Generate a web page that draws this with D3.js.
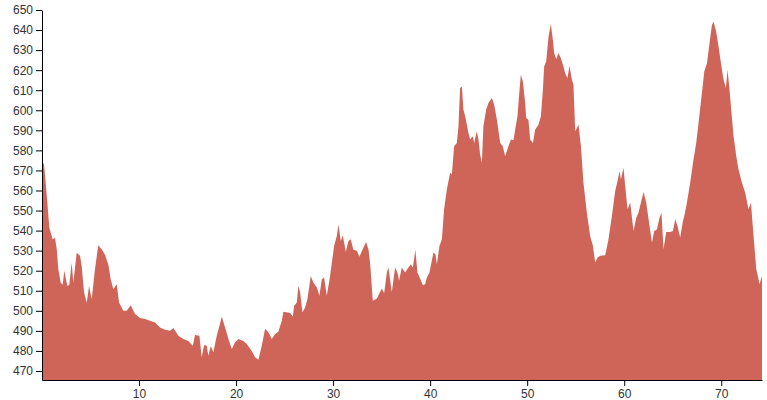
<!DOCTYPE html>
<html>
<head>
<meta charset="utf-8">
<script src="https://cdn.jsdelivr.net/npm/d3@7"></script>
<style>
  html, body { margin: 0; padding: 0; background: #fff; }
  svg { display: block; }
  .axis text { font-family: "Liberation Sans", Arial, sans-serif; font-size: 12px; fill: #333; }
  .axis path, .axis line { stroke: #000; }
</style>
</head>
<body>
<svg id="chart" width="767" height="400"></svg>
<script>
// distance along route (km)
const distance = [
  0.00, 0.21, 0.41, 0.55, 0.75, 1.10, 1.34, 1.52, 1.68, 1.93, 2.13, 2.30, 2.61, 2.81, 3.06, 3.23,
  3.58, 3.92, 4.09, 4.33, 4.61, 4.85, 5.12, 5.46, 5.80, 6.15, 6.49, 6.84, 7.08, 7.35, 7.70, 7.94,
  8.38, 8.73, 9.14, 9.59, 10.10, 10.62, 11.13, 11.65, 12.16, 12.68, 13.20, 13.54, 14.05, 14.57,
  15.08, 15.54, 15.77, 16.22, 16.46, 16.70, 16.98, 17.14, 17.39, 17.66, 18.01, 18.53, 18.87, 19.21,
  19.56, 19.90, 20.24, 20.75, 21.10, 21.62, 21.96, 22.30, 22.65, 22.99, 23.33, 23.68, 24.02, 24.36,
  24.71, 24.88, 25.57, 25.85, 25.98, 26.26, 26.42, 26.60, 26.84, 27.11, 27.35, 27.70, 27.97, 28.32,
  28.59, 28.84, 29.07, 29.35, 29.69, 30.10, 30.38, 30.55, 30.79, 31.00, 31.31, 31.58, 31.82, 32.09,
  32.44, 32.71, 33.12, 33.40, 33.64, 33.81, 34.09, 34.51, 35.02, 35.26, 35.54, 35.70, 36.05, 36.39,
  36.63, 36.80, 37.08, 37.42, 37.76, 38.01, 38.22, 38.48, 38.69, 38.97, 39.25, 39.48, 39.66, 39.93,
  40.34, 40.55, 40.69, 40.96, 41.21, 41.44, 41.72, 42.06, 42.24, 42.47, 42.75, 42.92, 43.09, 43.27,
  43.43, 43.61, 43.95, 44.12, 44.40, 44.54, 44.81, 44.98, 45.15, 45.33, 45.49, 45.77, 46.01, 46.36,
  46.60, 46.88, 47.22, 47.49, 47.73, 48.07, 48.32, 48.59, 48.76, 49.00, 49.21, 49.35, 49.56, 49.79,
  49.90, 50.13, 50.31, 50.59, 50.82, 51.16, 51.41, 51.62, 51.75, 51.96, 52.20, 52.44, 52.65, 52.78,
  52.99, 53.23, 53.47, 53.74, 53.92, 54.15, 54.36, 54.61, 54.77, 54.95, 55.29, 55.54, 55.80, 56.15,
  56.49, 56.77, 57.01, 57.25, 57.53, 58.04, 58.38, 58.73, 59.07, 59.31, 59.52, 59.66, 59.93, 60.10,
  60.34, 60.62, 60.96, 61.24, 61.47, 61.72, 61.99, 62.27, 62.51, 62.86, 63.09, 63.37, 63.64, 63.84,
  64.05, 64.33, 64.74, 65.02, 65.26, 65.49, 65.77, 66.05, 66.19, 66.46, 66.80, 67.14, 67.42, 67.66,
  68.01, 68.25, 68.53, 68.79, 69.04, 69.21, 69.48, 69.72, 69.97, 70.24, 70.48, 70.65, 70.82, 71.00,
  71.27, 71.55, 71.78, 72.13, 72.47, 72.81, 73.06, 73.33, 73.61, 73.95, 74.09, 74.20
];
// elevation (m)
const elevation = [
  575, 573, 562, 554, 541.6, 535.6, 536.5, 530.7, 520.7, 514, 513, 520, 512.4, 513, 524, 514,
  529, 527.4, 522.4, 509.3, 504, 512.4, 505.8, 520.7, 532.7, 530.7, 528, 523, 515.8, 510.8, 513.3, 504.2,
  500, 500, 502.8, 498.4, 496.4, 495.9, 495, 494.2, 491.7, 490.6, 490, 491.4, 487.6, 486,
  485, 482.6, 488, 487.6, 476.8, 483, 482.6, 477.6, 482.3, 479.3, 487.6, 497, 491.7, 486,
  481, 484.3, 486, 485, 483.4, 480, 476.8, 475.6, 482.6, 491, 489.3, 486, 488.5, 489.6,
  495, 499.5, 498.9, 497.2, 502.5, 504.2, 512.5, 509.2, 499.2, 501.7, 505.8, 517.4, 514.1, 511.6,
  507.5, 515.8, 516.6, 507.5, 517.4, 532.3, 537.3, 543.1, 534.8, 537.6, 529.4, 534.8, 535.7, 530.4,
  529.9, 527, 531.5, 534.3, 530.7, 524, 505, 506.2, 511.1, 508.8, 519.1, 521.6, 509.2, 521.6,
  519.1, 515, 521.6, 519.1, 521.6, 523.2, 521.6, 530.4, 519.1, 516.1, 512.8, 513.3, 516.6, 519.1,
  529, 528.2, 523.2, 532.3, 535.7, 550.6, 560.5, 568.8, 568, 582.1, 583.7, 592, 611.1, 611.9,
  600.3, 597, 588.7, 585.4, 587, 583.7, 589.5, 585.4, 577.9, 573.8, 592, 600.3, 603.6, 606.1,
  602.8, 595.3, 583.7, 582.1, 577.1, 582.1, 585.4, 585, 590.3, 597, 610.2, 617.7, 614.4, 603.6,
  596.1, 595.3, 585.4, 583.7, 590.3, 592.8, 597, 610.2, 621.8, 624.3, 636.7, 643, 635.1, 628.5,
  625.5, 628.5, 626, 621.8, 618.5, 616, 622.2, 615.2, 612.7, 589.5, 592.8, 582.1, 563.8, 548.9,
  537.3, 532.4, 524.1, 526.6, 527.4, 527.7, 535.7, 547.3, 559.7, 564.7, 569.6, 565.5, 571.3, 562.2,
  550.6, 553.9, 539.8, 546.4, 548.9, 553.9, 559.2, 553.9, 545.6, 534, 539.8, 540.6, 546.4, 548.9,
  530.7, 539.3, 539.3, 539.8, 545.6, 542.3, 536.5, 544.8, 547.3, 553.9, 563.8, 575.4, 583.7, 593.7,
  608.6, 619.3, 623.5, 633.4, 642.5, 644.2, 639.2, 631.8, 623.5, 615.2, 611.1, 620.2, 611.9, 601.9,
  587, 577.1, 570.5, 563.8, 558.9, 550.6, 553.9, 537.3, 520.8, 513.3, 515.8, 517.4
];
const xTicks = [10, 20, 30, 40, 50, 60, 70];
const yTicks = [470, 480, 490, 500, 510, 520, 530, 540, 550, 560, 570, 580, 590, 600, 610, 620, 630, 640, 650];

const margin = { top: 10, right: 5, bottom: 20, left: 42 };
const W = 767, H = 400;
const innerW = W - margin.left - margin.right;
const innerH = H - margin.top - margin.bottom;

const data = distance.map((d, i) => ({ x: d, y: elevation[i] }));

const x = d3.scaleLinear().domain([0, 74.2]).range([0, innerW]);
const y = d3.scaleLinear().domain([465.5, 650]).range([innerH, 0]);

const svg = d3.select("#chart");
const g = svg.append("g").attr("transform", `translate(${margin.left},${margin.top})`);

const area = d3.area()
  .x(d => x(d.x))
  .y0(innerH)
  .y1(d => y(d.y))
  .curve(d3.curveLinear);

g.append("path")
  .datum(data)
  .attr("fill", "#cf6459")
  .attr("d", area);

g.append("g")
  .attr("class", "axis")
  .attr("transform", `translate(0,${innerH})`)
  .call(d3.axisBottom(x).tickValues(xTicks).tickSizeOuter(0).tickFormat(d3.format("d")));

g.append("g")
  .attr("class", "axis")
  .call(d3.axisLeft(y).tickValues(yTicks).tickSizeOuter(0).tickFormat(d3.format("d")));
</script>
</body>
</html>
